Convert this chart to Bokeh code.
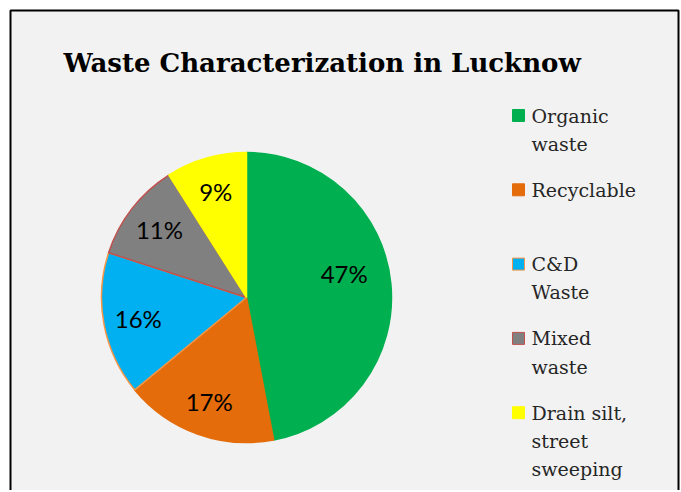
import math
from bokeh.plotting import figure
from bokeh.models import Range1d, ColumnDataSource
from bokeh.core.properties import value
from bokeh.embed import file_html
from bokeh.resources import INLINE

# ---- data ----
categories = ["Organic\nwaste", "Recyclable", "C&D\nWaste", "Mixed\nwaste", "Drain silt,\nstreet\nsweeping"]
shares = [47, 17, 16, 11, 9]
colors = ["#00b050", "#e46c0a", "#00b0f0", "#808080", "#ffff00"]
edge_colors = ["#00b050", "#e46c0a", "#f79646", "#c0504d", "#ffff00"]
title_text = "Waste Characterization in Lucknow"

W, H = 680, 490
p = figure(width=W, height=H, output_backend="svg", toolbar_location=None,
           x_range=Range1d(0, W), y_range=Range1d(0, H), min_border=0)
p.axis.visible = False
p.grid.visible = False
p.outline_line_color = None
p.background_fill_color = "white"
p.border_fill_color = "white"

# frame (chart area with grey fill, open at the bottom)
p.quad(left=10, right=678, top=H - 10, bottom=-20, fill_color="#f2f2f2",
       line_color="black", line_width=2)

# pie
cx, cy, R = 246, H - 297, 145
total = sum(shares)
starts, ends, mids = [], [], []
cum = 0
for s in shares:
    a0 = math.pi / 2 - 2 * math.pi * cum / total
    cum += s
    a1 = math.pi / 2 - 2 * math.pi * cum / total
    starts.append(a0)
    ends.append(a1)
    mids.append((a0 + a1) / 2)

src = ColumnDataSource(dict(start=starts, end=ends, color=colors, edge=edge_colors))
p.wedge(x=cx, y=cy, radius=R, start_angle="start", end_angle="end", direction="clock",
        fill_color="color", line_color="edge", line_width=1.5, source=src)

# labels (best-fit nudge for the big slice, as in the original)
nudge = [(-12, 14), (0, 0), (0, 0), (0, 0), (0, 0)]
lr = 0.76 * R
lx = [cx + lr * math.cos(m) + n[0] for m, n in zip(mids, nudge)]
ly = [cy + lr * math.sin(m) + n[1] for m, n in zip(mids, nudge)]
lbl = [f"{s}%" for s in shares]
p.text(x=lx, y=ly, text=lbl, text_align="center", text_baseline="middle",
       text_font=value("Lato"), text_font_size="24px", text_color="black")

# title
p.text(x=[63], y=[H - 62], text=[title_text], text_align="left", text_baseline="middle",
       text_font=value("DejaVu Serif"), text_font_style="bold", text_font_size="26px",
       text_color="black")

# legend
ly0 = H - 115
step = 74.3
leg_y = [ly0 - i * step for i in range(len(categories))]
p.scatter(x=[518] * len(categories), y=leg_y, marker="square", size=12,
          fill_color=colors, line_color=edge_colors, line_width=1)
p.text(x=[531] * len(categories), y=[y + 11 for y in leg_y], text=categories,
       text_align="left", text_baseline="top", text_font=value("DejaVu Serif"),
       text_font_size="19px", text_color="#262626", text_line_height=1.28)

open("out.html", "w").write(file_html(p, INLINE))
